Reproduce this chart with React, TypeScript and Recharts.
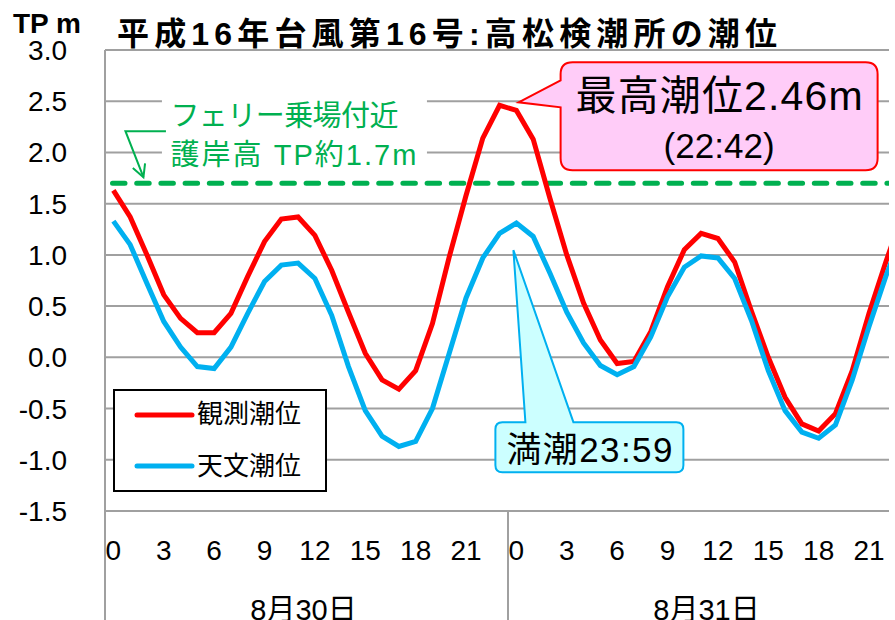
import React from 'react';
import {
  LineChart,
  Line,
  XAxis,
  YAxis,
  CartesianGrid,
  ReferenceLine,
  ReferenceDot,
  Legend,
  Customized,
} from 'recharts';

const FONT = "'Liberation Sans', Arial, 'Noto Sans CJK JP', sans-serif";
const GRID = '#a0a0a0';
const RED = '#ff0000';
const BLUE = '#00b0f0';
const GREEN = '#00b050';

// hourly readings, 8/30 0:00 through 8/31 23:00
const HOURS = [
  0, 1, 2, 3, 4, 5, 6, 7, 8, 9, 10, 11, 12, 13, 14, 15, 16, 17, 18, 19, 20, 21, 22, 23,
  24, 25, 26, 27, 28, 29, 30, 31, 32, 33, 34, 35, 36, 37, 38, 39, 40, 41, 42, 43, 44, 45, 46, 47,
];
const OBSERVED = [
  1.63, 1.37, 1.0, 0.61, 0.38, 0.24, 0.24, 0.43, 0.79, 1.13, 1.35, 1.37, 1.19, 0.85, 0.44, 0.04,
  -0.22, -0.31, -0.13, 0.33, 0.98, 1.58, 2.14, 2.46, 2.41, 2.13, 1.55, 1.0, 0.53, 0.17, -0.06, -0.04,
  0.25, 0.69, 1.05, 1.21, 1.16, 0.93, 0.45, 0.0, -0.39, -0.65, -0.72, -0.55, -0.13, 0.43, 0.93, 1.4,
];
const ASTRONOMICAL = [
  1.33, 1.1, 0.72, 0.35, 0.1, -0.09, -0.11, 0.1, 0.43, 0.74, 0.9, 0.92, 0.77, 0.41, -0.09, -0.52,
  -0.77, -0.87, -0.82, -0.5, 0.04, 0.58, 0.97, 1.21, 1.31, 1.18, 0.82, 0.44, 0.14, -0.08, -0.17, -0.09,
  0.2, 0.59, 0.88, 0.99, 0.97, 0.77, 0.36, -0.13, -0.52, -0.73, -0.79, -0.66, -0.22, 0.3, 0.79, 1.22,
];

const HOUR_TICKS = [0, 3, 6, 9, 12, 15, 18, 21, 24, 27, 30, 33, 36, 39, 42, 45];
const DAY_EDGES = [-0.5, 23.5, 47.5];
const DAY_MIDDLES = [11.5, 35.5];
const DAY_LABELS = ['8月30日', '8月31日'];
const LEVEL_TICKS = [-1.5, -1.0, -0.5, 0.0, 0.5, 1.0, 1.5, 2.0, 2.5, 3.0];

const SEAWALL_LEVEL = 1.7;
const PEAK_INDEX = 23;
const PEAK_TIME = '22:42';
const HIGH_TIDE_INDEX = 24;
const HIGH_TIDE_TIME = '23:59';

const data = HOURS.map((h, i) => ({ h, obs: OBSERVED[i], ast: ASTRONOMICAL[i] }));
const allXTicks = [...DAY_EDGES, ...DAY_MIDDLES, ...HOUR_TICKS].sort((a, b) => a - b);

function HourTick(props: any) {
  const { x, y, payload } = props;
  const v = payload.value;
  if (DAY_EDGES.includes(v)) {
    return <line x1={x} x2={x} y1={y} y2={y + 109} stroke={GRID} strokeWidth={2} />;
  }
  const d = DAY_MIDDLES.indexOf(v);
  if (d >= 0) {
    return (
      <text x={x - 3} y={y + 109} textAnchor="middle" fontSize={29} fontFamily={FONT} fill="#000">
        {DAY_LABELS[d]}
      </text>
    );
  }
  return (
    <text x={x} y={y + 49} textAnchor="middle" fontSize={28} fontFamily={FONT} fill="#000">
      {v % 24}
    </text>
  );
}

function LevelTick(props: any) {
  const { y, payload } = props;
  return (
    <text x={67} y={y + 10} textAnchor="end" fontSize={28} fontFamily={FONT} fill="#000">
      {payload.value.toFixed(1)}
    </text>
  );
}

function Headings() {
  return (
    <g fontFamily={FONT} fontWeight="bold" fill="#000">
      <text x={13} y={33} fontSize={28}>TP m</text>
      <text x={117} y={45} fontSize={32} textLength={660} lengthAdjust="spacing">
        平成16年台風第16号:高松検潮所の潮位
      </text>
    </g>
  );
}

// pink balloon pointing at the observed maximum
function PeakCallout({ cx, cy }: any) {
  const L = cx + 61, T = cy - 43, R = cx + 378, B = cy + 65, r = 12;
  const n1 = cy - 25, n2 = cy + 2;
  const tx = cx + 19, ty = cy - 3;
  const d = `M${L + r},${T} H${R - r} Q${R},${T} ${R},${T + r} V${B - r} Q${R},${B} ${R - r},${B} H${L + r} Q${L},${B} ${L},${B - r} V${n2} L${tx},${ty} L${L},${n1} V${T + r} Q${L},${T} ${L + r},${T} Z`;
  const mid = (L + R) / 2;
  return (
    <g fontFamily={FONT}>
      <path d={d} fill="#ffccf8" stroke={RED} strokeWidth={2} />
      <text x={mid} y={cy + 5} textAnchor="middle" fontSize={41} fill="#000" textLength={287} lengthAdjust="spacing">
        {`最高潮位${OBSERVED[PEAK_INDEX].toFixed(2)}m`}
      </text>
      <text x={mid} y={cy + 53} textAnchor="middle" fontSize={35} fill="#000" textLength={111} lengthAdjust="spacing">
        {`(${PEAK_TIME})`}
      </text>
    </g>
  );
}

// cyan balloon for the predicted high tide
function HighTideCallout({ cx, cy }: any) {
  const L = cx - 21, T = cy + 199, R = cx + 167, B = cy + 249, r = 7;
  const n1 = cx + 9, n2 = cx + 57;
  const tx = cx - 3, ty = cy + 27;
  const d = `M${L + r},${T} H${n1} L${tx},${ty} L${n2},${T} H${R - r} Q${R},${T} ${R},${T + r} V${B - r} Q${R},${B} ${R - r},${B} H${L + r} Q${L},${B} ${L},${B - r} V${T + r} Q${L},${T} ${L + r},${T} Z`;
  return (
    <g fontFamily={FONT}>
      <path d={d} fill="#ccffff" stroke={BLUE} strokeWidth={2} />
      <text x={(L + R) / 2} y={cy + 239} textAnchor="middle" fontSize={35} fill="#000" textLength={166} lengthAdjust="spacing">
        {`満潮${HIGH_TIDE_TIME}`}
      </text>
    </g>
  );
}

// note and arrow for the ferry pier seawall height
function SeawallNote({ cx, cy }: any) {
  const tipX = cx + 1.5, tipY = cy - 6;
  const bendX = cx - 16.5, bendY = cy - 52;
  const len = Math.hypot(tipX - bendX, tipY - bendY);
  const ux = (bendX - tipX) / len, uy = (bendY - tipY) / len;
  const wing = (deg: number) => {
    const a = (deg * Math.PI) / 180;
    return [tipX + 14 * (ux * Math.cos(a) - uy * Math.sin(a)), tipY + 14 * (ux * Math.sin(a) + uy * Math.cos(a))];
  };
  const [w1x, w1y] = wing(28);
  const [w2x, w2y] = wing(-28);
  return (
    <g fontFamily={FONT}>
      <rect x={cx + 20} y={cy - 91} width={265} height={82} fill="#fff" />
      <polyline
        points={`${cx + 24},${bendY} ${bendX},${bendY} ${tipX},${tipY}`}
        fill="none"
        stroke={GREEN}
        strokeWidth={2}
      />
      <polyline points={`${w1x},${w1y} ${tipX},${tipY} ${w2x},${w2y}`} fill="none" stroke={GREEN} strokeWidth={2} />
      <text x={cx + 28.5} y={cy - 57} fontSize={29} fill={GREEN} textLength={228} lengthAdjust="spacing">
        フェリー乗場付近
      </text>
      <text x={cx + 28.5} y={cy - 18} fontSize={29} fill={GREEN} textLength={246} lengthAdjust="spacing">
        {`護岸高 TP約${SEAWALL_LEVEL}m`}
      </text>
    </g>
  );
}

function LegendBox() {
  return (
    <div style={{ width: 214, height: 103, border: '2px solid #000', background: '#fff', boxSizing: 'border-box' }}>
      <svg width={210} height={99} style={{ display: 'block' }}>
        <g fontFamily={FONT} fontSize={26} fill="#000">
          <line x1={22} x2={77} y1={24} y2={24} stroke={RED} strokeWidth={5} strokeLinecap="round" />
          <text x={82} y={32}>観測潮位</text>
          <line x1={22} x2={77} y1={75} y2={75} stroke={BLUE} strokeWidth={5} strokeLinecap="round" />
          <text x={82} y={84}>天文潮位</text>
        </g>
      </svg>
    </div>
  );
}

export default function App() {
  return (
    <div style={{ position: 'absolute', left: 0, top: 0, width: 889, height: 620, overflow: 'hidden', background: '#fff' }}>
      <LineChart width={915} height={620} data={data} margin={{ top: 50, right: 4, left: 0, bottom: 0 }}>
        <CartesianGrid vertical={false} stroke={GRID} strokeWidth={2} />
        <XAxis
          dataKey="h"
          type="number"
          domain={[-0.5, 47.5]}
          ticks={allXTicks}
          interval={0}
          height={109}
          tickSize={0}
          tickMargin={0}
          tickLine={false}
          axisLine={{ stroke: GRID, strokeWidth: 2 }}
          tick={<HourTick />}
        />
        <YAxis
          type="number"
          domain={[-1.5, 3]}
          ticks={LEVEL_TICKS}
          interval={0}
          width={105}
          tickSize={0}
          tickMargin={0}
          tickLine={false}
          axisLine={{ stroke: GRID, strokeWidth: 2 }}
          tick={<LevelTick />}
        />
        <ReferenceLine
          y={SEAWALL_LEVEL}
          stroke={GREEN}
          strokeWidth={5}
          strokeDasharray="12.5 11.7"
          strokeDashoffset={-7.5}
          strokeLinecap="round"
        />
        <Line type="linear" dataKey="obs" name="観測潮位" stroke={RED} strokeWidth={5} dot={false} isAnimationActive={false} />
        <Line type="linear" dataKey="ast" name="天文潮位" stroke={BLUE} strokeWidth={5} dot={false} isAnimationActive={false} />
        <ReferenceDot x={1.7} y={SEAWALL_LEVEL} r={1} shape={(p: any) => <SeawallNote cx={p.cx} cy={p.cy} />} />
        <ReferenceDot
          x={HOURS[PEAK_INDEX]}
          y={OBSERVED[PEAK_INDEX]}
          r={1}
          shape={(p: any) => <PeakCallout cx={p.cx} cy={p.cy} />}
        />
        <ReferenceDot
          x={HOURS[HIGH_TIDE_INDEX]}
          y={ASTRONOMICAL[HIGH_TIDE_INDEX]}
          r={1}
          shape={(p: any) => <HighTideCallout cx={p.cx} cy={p.cy} />}
        />
        <Customized component={Headings} />
        {/* zero-height wrapper so the legend floats over the plot without taking layout space */}
        <Legend
          content={<LegendBox />}
          wrapperStyle={{ left: 113, top: 389, width: 214, height: 0, overflow: 'visible' }}
        />
      </LineChart>
    </div>
  );
}
